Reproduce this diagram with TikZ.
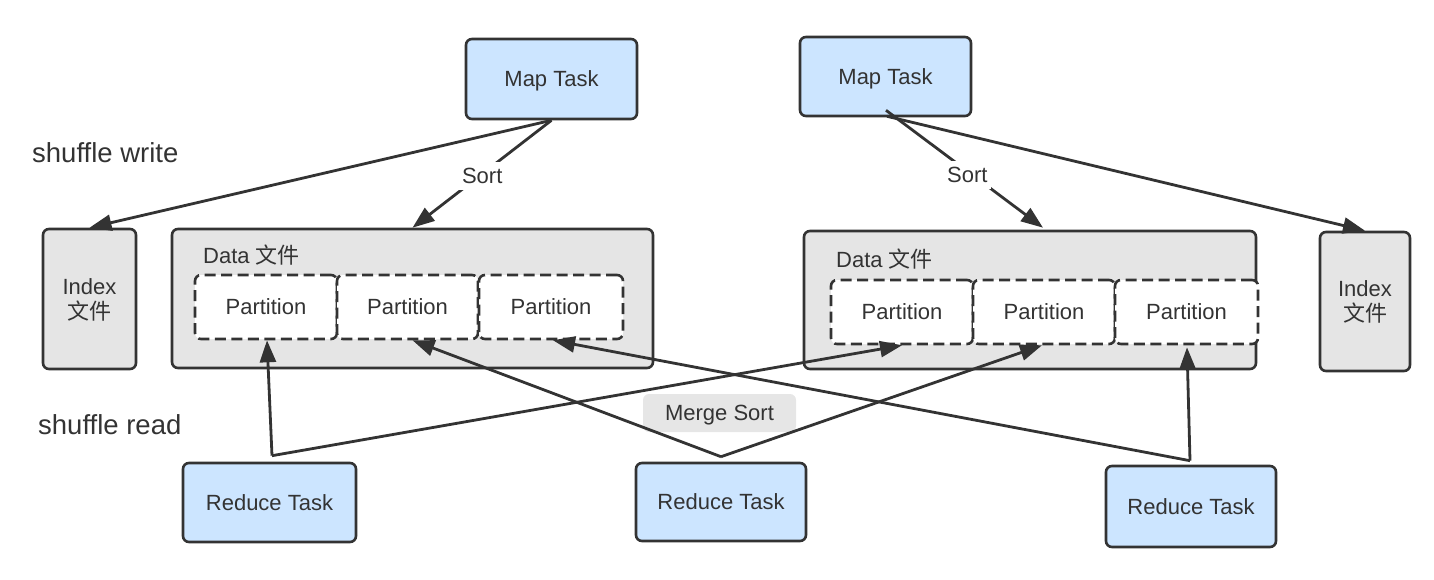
\documentclass[tikz,border=0pt]{standalone}
\usepackage{fontspec}
\setmainfont{Liberation Sans}
\newfontfamily\cjk{Noto Sans CJK SC}
\usetikzlibrary{arrows.meta,calc}
\definecolor{ink}{HTML}{333333}
\definecolor{taskblue}{HTML}{CCE5FF}
\definecolor{filegray}{HTML}{E5E5E5}
\definecolor{tagGray}{HTML}{E6E6E6}
\begin{document}
\begin{tikzpicture}[x=1pt,y=-1pt,
  box/.style={draw=ink, line width=2.6pt, rounded corners=6pt, inner sep=0pt, text=ink,
              font=\fontsize{22}{25}\selectfont, align=center, text depth=0pt},
  task/.style={box, fill=taskblue},
  filebox/.style={box, fill=filegray},
  partbox/.style={box, fill=white, dash pattern=on 11pt off 5.5pt},
  arr/.style={draw=ink, line width=2.8pt, -{Triangle[length=22pt,width=16pt]}},
  lbl/.style={text=ink, font=\fontsize{22}{25}\selectfont, inner sep=0pt, text depth=0pt},
  sortlbl/.style={lbl, fill=white, inner xsep=3pt, inner ysep=6pt},
  biglbl/.style={text=ink, font=\fontsize{27.5}{30}\selectfont, inner sep=0pt, anchor=west},
]
\useasboundingbox (0,0) rectangle (1434,580);

% side labels
\node[biglbl] (sw) at (32,153) {shuffle write};
\node[biglbl] (sr) at (38,425) {shuffle read};

% map tasks
\node[task, minimum width=171pt, minimum height=80pt] (map1) at (551.5,79) {Map Task};
\node[task, minimum width=171pt, minimum height=79pt] (map2) at (885.5,76.5) {Map Task};

% left side files
\node[filebox, minimum width=93pt, minimum height=140pt] (idxL) at (89.5,299) {Index\\{\cjk 文件}};
\node[filebox, minimum width=481pt, minimum height=139pt] (dataL) at (412.5,298.5) {};
\node[lbl, anchor=west] (dlblL) at (203,254) {Data {\cjk 文件}};
\node[partbox, minimum width=142pt, minimum height=64pt] (pL1) at (266,307) {Partition};
\node[partbox, minimum width=141pt, minimum height=64pt] (pL2) at (407.5,307) {Partition};
\node[partbox, minimum width=144pt, minimum height=64pt] (pL3) at (551,307) {Partition};

% right side files
\node[filebox, minimum width=452pt, minimum height=138pt] (dataR) at (1030,300) {};
\node[lbl, anchor=west] (dlblR) at (836,258) {Data {\cjk 文件}};
\node[partbox, minimum width=142pt, minimum height=64pt] (pR1) at (902,312) {Partition};
\node[partbox, minimum width=142pt, minimum height=64pt] (pR2) at (1044,312) {Partition};
\node[partbox, minimum width=143pt, minimum height=64pt] (pR3) at (1186.5,312) {Partition};
\node[filebox, minimum width=90pt, minimum height=139pt] (idxR) at (1365,301.5) {Index\\{\cjk 文件}};

% reduce tasks
\node[task, minimum width=173pt, minimum height=79pt] (red1) at (269.5,502.5) {Reduce Task};
\node[task, minimum width=170pt, minimum height=78pt] (red2) at (721,502) {Reduce Task};
\node[task, minimum width=170pt, minimum height=81pt] (red3) at (1191,506.5) {Reduce Task};

% merge sort tag
\node[fill=tagGray, rounded corners=6pt, minimum width=153pt, minimum height=38pt, inner sep=0pt,
      text=ink, font=\fontsize{22}{25}\selectfont, text depth=0pt] (merge) at (719.5,413) {Merge Sort};

% write arrows
\coordinate (m2a) at ($(map2.south)+(0.5,-7)$);
\coordinate (m2b) at ($(map2.south)+(1.5,-1)$);
\draw[arr] (map1.south) -- (idxL.north);
\draw[arr] (map1.south) -- node[sortlbl, pos=0.52, xshift=3pt] (sortL) {Sort} (dataL.north);
\draw[arr] (m2a) -- node[sortlbl, pos=0.55, xshift=-5pt] (sortR) {Sort} ($(dataR.north)+(13,-2)$);
\draw[arr] (m2b) -- (idxR.north);

% read arrows
\coordinate (r1) at ($(red1.north)+(2.5,-6)$);
\coordinate (r2) at ($(red2.north)+(0,-5)$);
\coordinate (r3) at ($(red3.north)+(-1,-4)$);
\draw[arr] (r1) -- ($(pL1.south)+(1,0)$);
\draw[arr] (r1) -- (pR1.south);
\draw[arr] (r2) -- ($(pL2.south)+(5,0)$);
\draw[arr] (r2) -- ($(pR2.south)+(-2,0)$);
\draw[arr] (r3) -- ($(pL3.south)+(2,0)$);
\draw[arr] (r3) -- ($(pR3.south)+(0.5,2)$);
\end{tikzpicture}
\end{document}
